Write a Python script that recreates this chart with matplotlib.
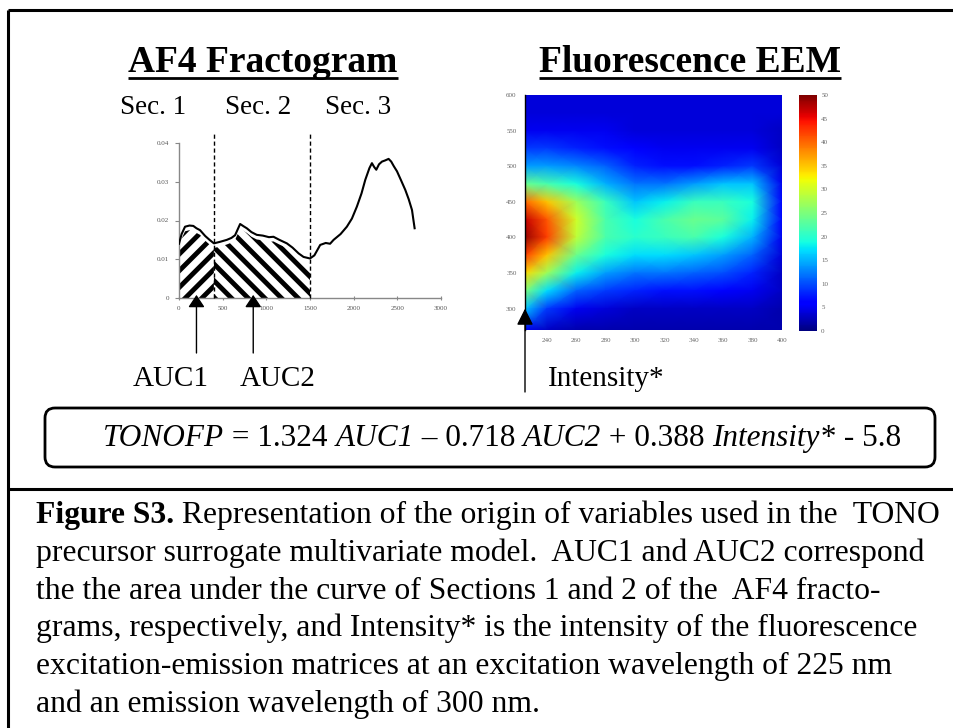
import numpy as np
import matplotlib
matplotlib.use('Agg')
import matplotlib.pyplot as plt
import matplotlib.transforms as mtransforms
from matplotlib.patches import FancyBboxPatch

# ---- data ----
# AF4 fractogram (elution time, UV signal)
frac_time = [0, 30, 69, 120, 164, 200, 241, 300, 350, 400, 470, 547, 600, 642,
             700, 740, 776, 830, 890, 960, 1030, 1082, 1150, 1235, 1300, 1370,
             1426, 1500, 1550, 1617, 1680, 1730, 1770, 1850, 1922, 1980, 2037,
             2090, 2133, 2180, 2209, 2235, 2259, 2290, 2324, 2360, 2400, 2430,
             2460, 2496, 2540, 2591, 2630, 2668, 2685, 2698]
frac_signal = [0.0140, 0.0165, 0.0184, 0.0187, 0.0186, 0.0180, 0.0175, 0.0160,
               0.0150, 0.0141, 0.0145, 0.0150, 0.0155, 0.0162, 0.0191, 0.0185,
               0.0180, 0.0170, 0.0163, 0.0161, 0.0157, 0.0158, 0.0150, 0.0141,
               0.0130, 0.0115, 0.0106, 0.0102, 0.0110, 0.0137, 0.0142, 0.0140,
               0.0150, 0.0165, 0.0184, 0.0205, 0.0236, 0.0270, 0.0305, 0.0335,
               0.0348, 0.0338, 0.0331, 0.0345, 0.0352, 0.0355, 0.0359, 0.0352,
               0.0340, 0.0327, 0.0305, 0.0279, 0.0255, 0.0227, 0.0200, 0.0180]
section_bounds = [0, 400, 1500]
section_labels = ['Sec. 1', 'Sec. 2', 'Sec. 3']
auc_arrow_x = [200, 850]
frac_yticks = [0, 0.01, 0.02, 0.03, 0.04]
frac_ytick_labels = ['0', '0.01', '0.02', '0.03', '0.04']
frac_xticks = [0, 500, 1000, 1500, 2000, 2500, 3000]

# fluorescence EEM (excitation columns, emission rows, intensity)
eem_ex = [225, 240, 260, 280, 300, 320, 340, 360, 380, 400]
eem_em = [600, 575, 550, 525, 500, 475, 450, 425, 400, 375, 350, 325, 300, 270]
eem_int = [
    [4, 4, 4, 4, 4, 4, 4, 4, 4, 4],
    [4, 4, 4, 4, 4, 4, 4, 4, 4, 4],
    [5, 5, 5, 5, 4, 4, 4, 4, 4, 3],
    [9, 9, 8, 7, 6, 5, 5, 5, 5, 3],
    [14, 14, 13, 11, 8, 7, 7, 8, 9, 4],
    [24, 22, 19, 15, 12, 12, 14, 16, 16, 5],
    [40, 35, 27, 21, 16, 18, 21, 21, 19, 6],
    [47, 41, 30, 22, 19, 22, 24, 23, 18, 6],
    [49, 42, 29, 22, 20, 21, 22, 19, 15, 5],
    [42, 35, 24, 19, 17, 17, 16, 14, 11, 4],
    [34, 27, 18, 14, 12, 12, 11, 10, 8, 3],
    [25, 17, 11, 9, 8, 7, 7, 6, 5, 3],
    [16, 9, 5, 4, 3, 3, 3, 3, 3, 2],
    [5, 3, 2, 2, 2, 2, 2, 2, 2, 2],
]
eem_xticks = [240, 260, 280, 300, 320, 340, 360, 380, 400]
eem_yticks = [300, 350, 400, 450, 500, 550, 600]
cbar_ticks = [0, 5, 10, 15, 20, 25, 30, 35, 40, 45, 50]
intensity_point = (225, 300)

equation_runs = [('TONOFP', 'italic'), (' = 1.324 ', 'normal'), ('AUC1', 'italic'),
                 (' \u2013 0.718 ', 'normal'), ('AUC2', 'italic'),
                 (' + 0.388 ', 'normal'), ('Intensity*', 'italic'), (' - 5.8', 'normal')]
caption_head = 'Figure S3.'
caption_lines = [
    ' Representation of the origin of variables used in the  TONO',
    'precursor surrogate multivariate model.  AUC1 and AUC2 correspond',
    'the the area under the curve of Sections 1 and 2 of the  AF4 fracto-',
    'grams, respectively, and Intensity* is the intensity of the fluorescence',
    'excitation-emission matrices at an excitation wavelength of 225 nm',
    'and an emission wavelength of 300 nm.',
]

# ---- figure ----
W, H = 954, 728
SERIF = 'Liberation Serif'
plt.rcParams['hatch.linewidth'] = 3.5
fig = plt.figure(figsize=(W / 100, H / 100), dpi=100)
renderer = fig.canvas.get_renderer()


def px_rect(x0, y0, x1, y1):
    return [x0 / W, 1 - y1 / H, (x1 - x0) / W, (y1 - y0) / H]


def text_width(s, size, weight='normal', style='normal'):
    prop = matplotlib.font_manager.FontProperties(family=SERIF, size=size,
                                                  weight=weight, style=style)
    w1 = renderer.get_text_width_height_descent(s + '|', prop, ismath=False)[0]
    w0 = renderer.get_text_width_height_descent('|', prop, ismath=False)[0]
    return w1 - w0


overlay = fig.add_axes([0, 0, 1, 1], zorder=5)
overlay.set_xlim(0, W)
overlay.set_ylim(H, 0)
overlay.axis('off')
overlay.patch.set_alpha(0)

# outer frame
overlay.plot([8, W], [10, 10], color='black', lw=2.2, solid_capstyle='butt')
overlay.plot([8, 8], [10, H], color='black', lw=2.2, solid_capstyle='butt')
overlay.plot([8, W], [489, 489], color='black', lw=2.2, solid_capstyle='butt')

# ---- AF4 fractogram ----
ax1 = fig.add_axes(px_rect(179, 143, 441, 298))
t = np.array(frac_time)
s = np.array(frac_signal)
ax1.plot(t, s, color='black', lw=1.5, zorder=4)
m1 = (t >= section_bounds[0]) & (t <= section_bounds[1])
m2 = (t >= section_bounds[1]) & (t <= section_bounds[2])
ax1.fill_between(t[m1], 0, s[m1] - 0.0012, facecolor='white', edgecolor='black',
                 hatch='//', linewidth=0, zorder=2)
ax1.fill_between(t[m2], 0, s[m2] - 0.0012, facecolor='white', edgecolor='black',
                 hatch='\\\\', linewidth=0, zorder=2)
for xb in section_bounds[1:]:
    ax1.plot([xb, xb], [0, 0.0427], color='black', lw=1, ls=(0, (3, 2)),
             clip_on=False, zorder=3)
ax1.set_xlim(0, 3000)
ax1.set_ylim(0, 0.04)
ax1.set_xticks(frac_xticks)
ax1.set_yticks(frac_yticks)
ax1.set_yticklabels(frac_ytick_labels)
for sp in ['top', 'right']:
    ax1.spines[sp].set_visible(False)
for sp in ['left', 'bottom']:
    ax1.spines[sp].set_color('#888888')
    ax1.spines[sp].set_linewidth(1)
ax1.tick_params(labelsize=5, colors='#888888', labelcolor='#555555', length=3,
                width=0.8, pad=4)
ax1.tick_params(axis='x', direction='inout')
for lab in ax1.get_xticklabels() + ax1.get_yticklabels():
    lab.set_family(SERIF)
ax1.patch.set_alpha(0)

# AUC arrows
blend1 = mtransforms.blended_transform_factory(ax1.transData, overlay.transData)
for xa in auc_arrow_x:
    ax1.annotate('', xy=(xa, 0.0008), xycoords='data', xytext=(xa, 353),
                 textcoords=blend1,
                 arrowprops=dict(arrowstyle='-|>,head_length=0.75,head_width=0.5',
                                 color='black', lw=1, shrinkA=0, shrinkB=0,
                                 mutation_scale=10), zorder=6)

# ---- Fluorescence EEM ----
ax2 = fig.add_axes(px_rect(525, 95, 782, 330))
EX, EM = np.meshgrid(eem_ex, eem_em)
mesh = ax2.pcolormesh(EX, EM, np.array(eem_int, dtype=float), shading='gouraud',
                      cmap='jet', vmin=0, vmax=50)
ax2.set_xlim(225, 400)
ax2.set_ylim(270, 600)
ax2.set_xticks(eem_xticks)
ax2.set_yticks(eem_yticks)
for sp in ['top', 'right', 'bottom']:
    ax2.spines[sp].set_visible(False)
ax2.spines['left'].set_color('black')
ax2.spines['left'].set_linewidth(1)
ax2.tick_params(labelsize=5, labelcolor='#666666', length=0, pad=6)
for lab in ax2.get_xticklabels() + ax2.get_yticklabels():
    lab.set_family(SERIF)

cax = fig.add_axes(px_rect(799, 95, 817, 331))
cb = fig.colorbar(mesh, cax=cax, ticks=cbar_ticks)
cb.outline.set_visible(False)
cax.tick_params(labelsize=5, labelcolor='#666666', length=0, pad=3)
for lab in cax.get_yticklabels():
    lab.set_family(SERIF)

blend2 = mtransforms.blended_transform_factory(ax2.transData, overlay.transData)
ax2.annotate('', xy=intensity_point, xycoords='data',
             xytext=(intensity_point[0], 392), textcoords=blend2,
             arrowprops=dict(arrowstyle='-|>,head_length=1.0,head_width=0.5',
                             color='black', lw=1, shrinkA=0, shrinkB=0,
                             mutation_scale=10),
             annotation_clip=False, zorder=6)

# ---- titles and labels ----
title_size = 20.0 * 270 / text_width('AF4 Fractogram', 20.0, weight='bold')
for label, xc in [('AF4 Fractogram', 263), ('Fluorescence EEM', 690)]:
    overlay.text(xc, 72, label, ha='center', va='baseline', family=SERIF,
                 weight='bold', size=title_size)
    w = text_width(label, title_size, weight='bold')
    overlay.plot([xc - w / 2, xc + w / 2], [78, 78], color='black', lw=2,
                 solid_capstyle='butt')

for label, xc in zip(section_labels, [153, 258, 358]):
    overlay.text(xc, 114, label, ha='center', va='baseline', family=SERIF,
                 size=19.5)

for label, xc in [('AUC1', 171), ('AUC2', 278)]:
    overlay.text(xc, 386, label, ha='center', va='baseline', family=SERIF, size=21)
overlay.text(548, 386, 'Intensity*', ha='left', va='baseline', family=SERIF, size=21)

# ---- equation box ----
box = FancyBboxPatch((45 + 10, 408 + 10), 890 - 20, 59 - 20,
                     boxstyle='round,pad=10,rounding_size=10',
                     facecolor='white', edgecolor='black', lw=2)
overlay.add_patch(box)
eq_ref = sum(text_width(txt, 20, style=st) for txt, st in equation_runs)
eq_size = 20 * 797 / eq_ref
xpos = 103
for txt, st in equation_runs:
    overlay.text(xpos, 446, txt, ha='left', va='baseline', family=SERIF,
                 style=st, size=eq_size)
    xpos += text_width(txt, eq_size, style=st)

# ---- caption ----
cap_ref = text_width(caption_head, 20, weight='bold') + text_width(caption_lines[0], 20)
cap_size = 20 * 906 / cap_ref
baselines = [523, 561, 599, 636, 674, 712]
overlay.text(36, baselines[0], caption_head, ha='left', va='baseline',
             family=SERIF, weight='bold', size=cap_size)
xh = 36 + text_width(caption_head, cap_size, weight='bold')
overlay.text(xh, baselines[0], caption_lines[0], ha='left', va='baseline',
             family=SERIF, size=cap_size)
for line, yb in zip(caption_lines[1:], baselines[1:]):
    overlay.text(36, yb, line, ha='left', va='baseline', family=SERIF, size=cap_size)

fig.savefig('out.png', dpi=100)
